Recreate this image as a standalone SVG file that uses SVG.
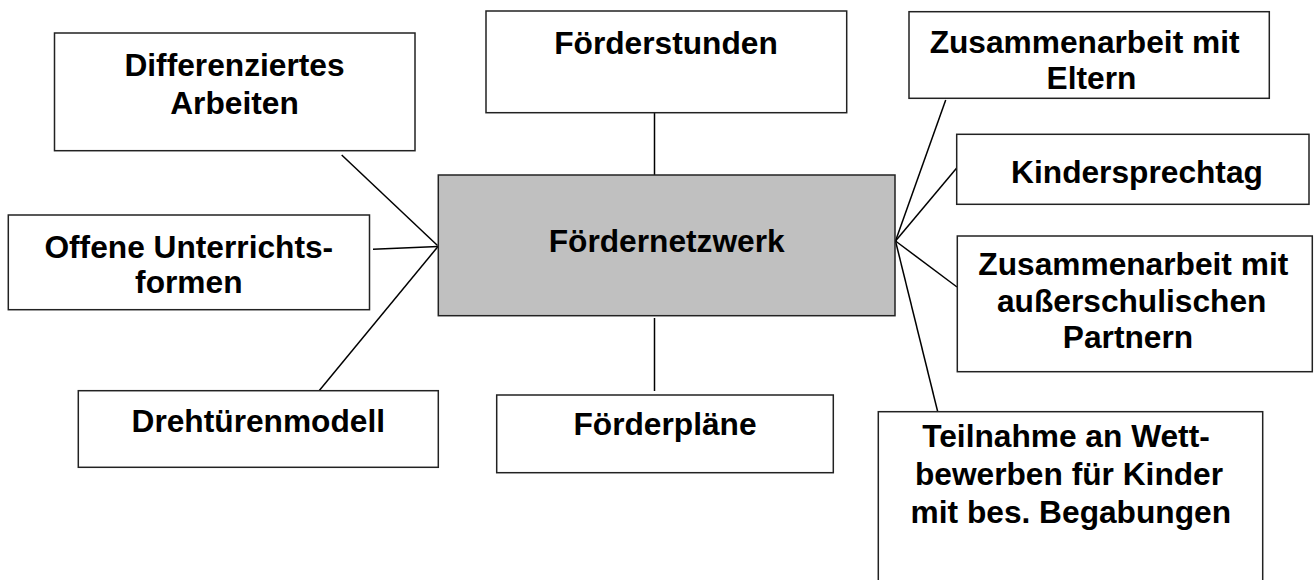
<svg xmlns="http://www.w3.org/2000/svg" width="1316" height="580" viewBox="0 0 1316 580">
<style>
.box{fill:#ffffff;stroke:#222;stroke-width:1.5}
.main{fill:#c0c0c0;stroke:#222;stroke-width:1.5}
.t{font-family:"Liberation Sans",Arial,sans-serif;font-weight:bold;font-size:31.7px;fill:#000;text-anchor:middle}
.c line{stroke:#000;stroke-width:1.5}
</style>
<rect x="0" y="0" width="1316" height="580" fill="#fff"/>
<g id="connectors" class="c">
<line x1="654.5" y1="107" x2="654.5" y2="180"/>
<line x1="654.5" y1="318" x2="654.5" y2="391"/>
<line x1="341.7" y1="155" x2="437.5" y2="245.5"/>
<line x1="373" y1="249.3" x2="438" y2="246.5"/>
<line x1="318.3" y1="391.7" x2="438" y2="246.5"/>
<line x1="945.7" y1="100" x2="895.5" y2="241"/>
<line x1="956.7" y1="168" x2="895.5" y2="241"/>
<line x1="957" y1="287" x2="895.5" y2="241"/>
<line x1="895.5" y1="241" x2="937.7" y2="411.7"/>
</g>
<g id="n-main"><rect class="main" x="438.3" y="175" width="456.7" height="140.7"/><text class="t" x="666.7" y="251.7">Fördernetzwerk</text></g>
<g id="n-differenziert"><rect class="box" x="54.5" y="33" width="360.5" height="117.7"/><text class="t" x="234.5" y="76">Differenziertes</text><text class="t" x="234.5" y="113.5">Arbeiten</text></g>
<g id="n-foerderstunden"><rect class="box" x="486" y="11" width="360.7" height="101.7"/><text class="t" x="666" y="53.5">Förderstunden</text></g>
<g id="n-offene"><rect class="box" x="8.3" y="215" width="361.2" height="94.7"/><text class="t" x="188.8" y="258">Offene Unterrichts-</text><text class="t" x="188.8" y="293">formen</text></g>
<g id="n-drehtueren"><rect class="box" x="78.3" y="390.7" width="360" height="76.6"/><text class="t" x="258.3" y="431.7">Drehtürenmodell</text></g>
<g id="n-foerderplaene"><rect class="box" x="496.7" y="395" width="336.6" height="77.7"/><text class="t" x="665" y="435">Förderpläne</text></g>
<g id="n-eltern"><rect class="box" x="909" y="11.7" width="360.3" height="86.6"/><text class="t" x="1084.6" y="53.3">Zusammenarbeit mit</text><text class="t" x="1091.5" y="89.3">Eltern</text></g>
<g id="n-kindersprechtag"><rect class="box" x="956.7" y="134.3" width="352.3" height="70"/><text class="t" x="1137" y="183.3">Kindersprechtag</text></g>
<g id="n-ausserschulisch"><rect class="box" x="957.3" y="236" width="355" height="135.7"/><text class="t" x="1133.3" y="275">Zusammenarbeit mit</text><text class="t" x="1131.7" y="311.7">außerschulischen</text><text class="t" x="1128" y="348.3">Partnern</text></g>
<g id="n-teilnahme"><rect class="box" x="878.3" y="411.7" width="384.4" height="180"/><text class="t" x="1066" y="447.3">Teilnahme an Wett-</text><text class="t" x="1069" y="484.5">bewerben für Kinder</text><text class="t" x="1070.8" y="523">mit bes. Begabungen</text></g>
</svg>
